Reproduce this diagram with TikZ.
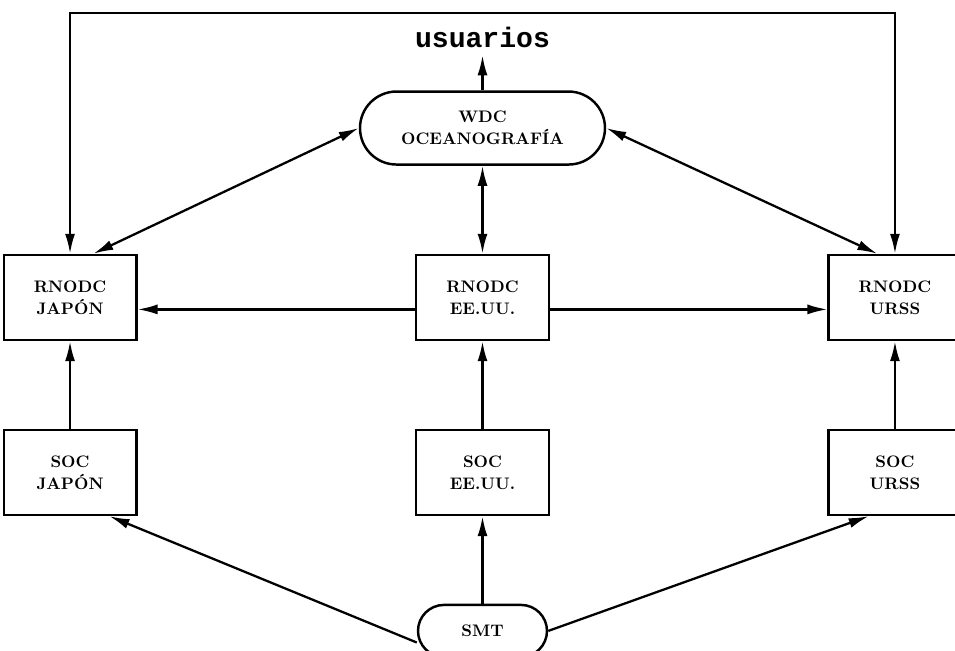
\documentclass[tikz,border=0pt]{standalone}
\usepackage{fontspec}
\newfontfamily\usermono{Liberation Mono}
\usepackage{tikz}
\usetikzlibrary{arrows.meta, positioning}

\begin{document}
\begin{tikzpicture}[
    node distance=1.75cm and 5.55cm,
    block/.style={
        rectangle,
        draw=black,
        line width=1.4pt,
        align=center,
        font=\fontsize{9.5}{12.5}\selectfont\bfseries,
        minimum width=2.65cm,
        minimum height=1.7cm
    },
    pill/.style={
        rectangle,
        rounded corners=0.52cm,
        draw=black,
        line width=1.4pt,
        align=center,
        font=\fontsize{9.5}{12.5}\selectfont\bfseries
    },
    arrow/.style={-{Latex[length=4mm, width=2mm]}, line width=1.3pt},
    dblarrow/.style={{Latex[length=4mm, width=2mm]}-{Latex[length=4mm, width=2mm]}, line width=1.3pt}
]
\useasboundingbox (0,0) rectangle (19.1,-13.02);

\node[block] (rusa) at (9.65,-5.95) {RNODC\\EE.UU.};
\node[block, left=of rusa] (rjap) {RNODC\\JAPÓN};
\node[block, right=of rusa] (rurss) {RNODC\\URSS};

\node[block, below=of rusa] (susa) {SOC\\EE.UU.};
\node[block, below=of rjap] (sjap) {SOC\\JAPÓN};
\node[block, below=of rurss] (surss) {SOC\\URSS};

\node[pill, minimum width=4.9cm, minimum height=1.46cm, rounded corners=0.73cm, above=1.76cm of rusa] (wdc) {WDC\\OCEANOGRAFÍA};
\node[inner sep=0.15cm, font=\usermono\bfseries\fontsize{16}{18}\selectfont, above=0.7cm of wdc] (users) {usuarios};

\node[pill, minimum width=2.58cm, minimum height=1.04cm, below=of susa] (smt) {SMT};

\coordinate (top) at (0,-0.26);

\draw[arrow] (wdc) -- (users);
\draw[dblarrow] (rjap.north) -- (rjap.north |- top) -- (rurss.north |- top) -- (rurss.north);

\draw[dblarrow] (wdc.west) -- (rjap.62);
\draw[dblarrow] (wdc.east) -- (rurss.112);
\draw[dblarrow] (wdc) -- (rusa);

\draw[arrow] (rusa.190) -- (rusa.190 -| rjap.east);
\draw[arrow] (rusa.-10) -- (rusa.-10 -| rurss.west);

\draw[arrow] (sjap) -- (rjap);
\draw[arrow] (susa) -- (rusa);
\draw[arrow] (surss) -- (rurss);

\draw[arrow] (smt.190) -- (sjap.-48);
\draw[arrow] (smt) -- (susa);
\draw[arrow] (smt.east) -- (surss.239);

\end{tikzpicture}
\end{document}
